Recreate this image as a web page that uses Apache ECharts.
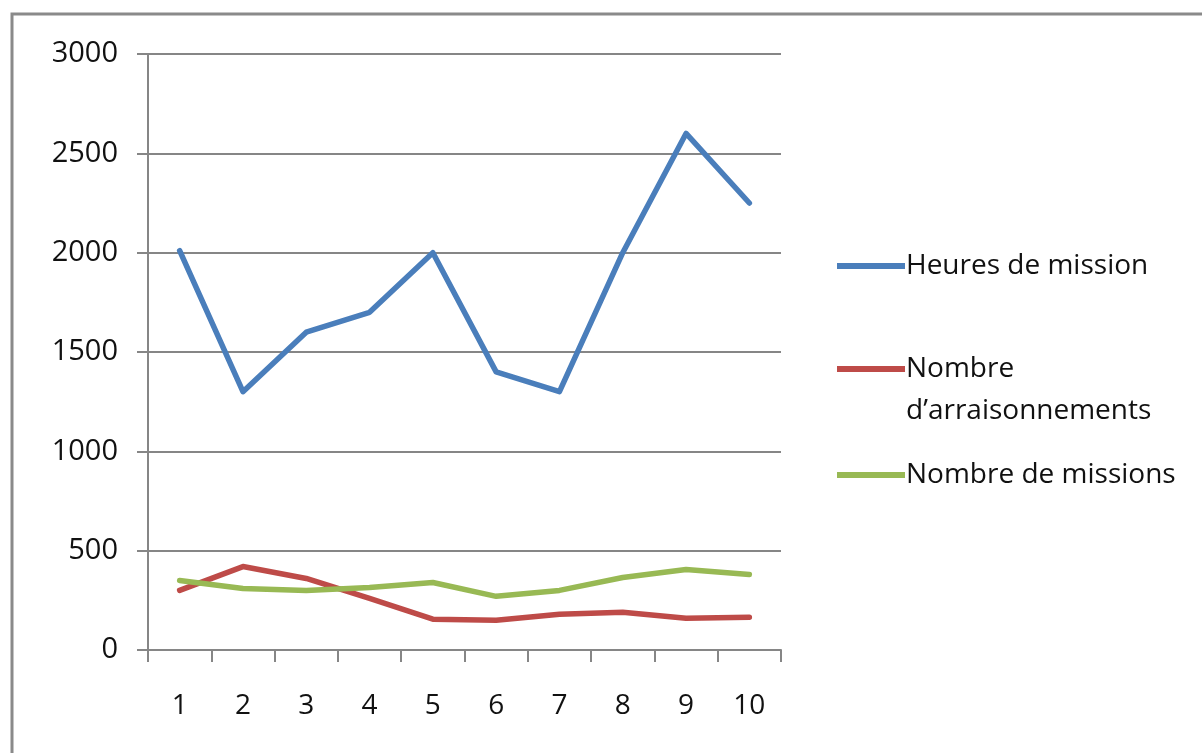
<!DOCTYPE html>
<html>
<head>
<meta charset="utf-8">
<script src="https://cdn.jsdelivr.net/npm/echarts@6/dist/echarts.min.js"></script>
<style>
    html, body { margin: 0; padding: 0; background: #fff; }
    #chart { width: 1202px; height: 753px; }
</style>
</head>
<body>
<div id="chart"></div>
<script>
// data
const categories = ['1', '2', '3', '4', '5', '6', '7', '8', '9', '10'];
const heuresMission = [2010, 1300, 1600, 1700, 2000, 1400, 1300, 2000, 2600, 2250];
const arraisonnements = [300, 420, 360, 260, 155, 150, 180, 190, 160, 165];
const missions = [350, 310, 300, 315, 340, 270, 300, 365, 405, 380];
const seriesNames = ['Heures de mission', 'Nombre\nd\u2019arraisonnements', 'Nombre de missions'];
const seriesColors = ['#4a7ebb', '#be4b48', '#98b954'];

const FONT = '"Open Sans", sans-serif';
const axisGray = '#868686';

// plain line icon, and one whose bar sits on the first of two text lines
const lineIcon = 'path://M0,0 L68,0 L68,6 L0,6 Z';
const topLineIcon = 'path://M0,0 L68,0 L68,6 L0,6 Z M34,47.9 L34.01,47.9 L34.01,48 L34,48 Z';

const legendBase = {
    orient: 'vertical',
    left: 832,
    itemWidth: 68,
    itemHeight: 6,
    itemGap: 0,
    icon: lineIcon,
    textStyle: { fontFamily: FONT, fontSize: 28, color: '#111', lineHeight: 42, padding: [0, 0, 0, -4] },
};

const makeSeries = (name, values, color) => ({
    name,
    type: 'line',
    data: values,
    symbol: 'none',
    lineStyle: { color, width: 5.5, cap: 'round', join: 'round' },
    itemStyle: { color },
});

const chart = echarts.init(document.getElementById('chart'), null, { renderer: 'canvas' });

chart.setOption({
    animation: false,
    backgroundColor: '#fff',
    graphic: [
        {
            type: 'rect',
            shape: { x: 12, y: 14, width: 1200, height: 760 },
            style: { fill: 'none', stroke: '#8a8a8a', lineWidth: 3 },
            silent: true,
        },
    ],
    grid: { left: 148, right: 421, top: 54, bottom: 103 },
    legend: [
        Object.assign({}, legendBase, { top: 240, data: [seriesNames[0]] }),
        Object.assign({}, legendBase, {
            top: 343,
            itemHeight: 48,
            icon: topLineIcon,
            data: [seriesNames[1]],
        }),
        Object.assign({}, legendBase, { top: 449, data: [seriesNames[2]] }),
    ],
    xAxis: {
        type: 'category',
        data: categories,
        boundaryGap: true,
        axisLine: { lineStyle: { color: axisGray, width: 2 } },
        axisTick: { show: true, length: 12, lineStyle: { color: axisGray, width: 2 } },
        axisLabel: { fontFamily: FONT, fontSize: 28, color: '#111', margin: 42 },
        splitLine: { show: false },
    },
    yAxis: {
        type: 'value',
        min: 0,
        max: 3000,
        interval: 500,
        axisLine: { show: true, lineStyle: { color: axisGray, width: 2 } },
        axisTick: { show: true, length: 11, lineStyle: { color: axisGray, width: 2 } },
        axisLabel: {
            fontFamily: FONT,
            fontSize: 29,
            color: '#111',
            margin: 30,
            formatter: (v) => String(v),
        },
        splitLine: { lineStyle: { color: axisGray, width: 2 } },
    },
    series: [
        makeSeries(seriesNames[0], heuresMission, seriesColors[0]),
        makeSeries(seriesNames[1], arraisonnements, seriesColors[1]),
        makeSeries(seriesNames[2], missions, seriesColors[2]),
    ],
});
</script>
</body>
</html>
